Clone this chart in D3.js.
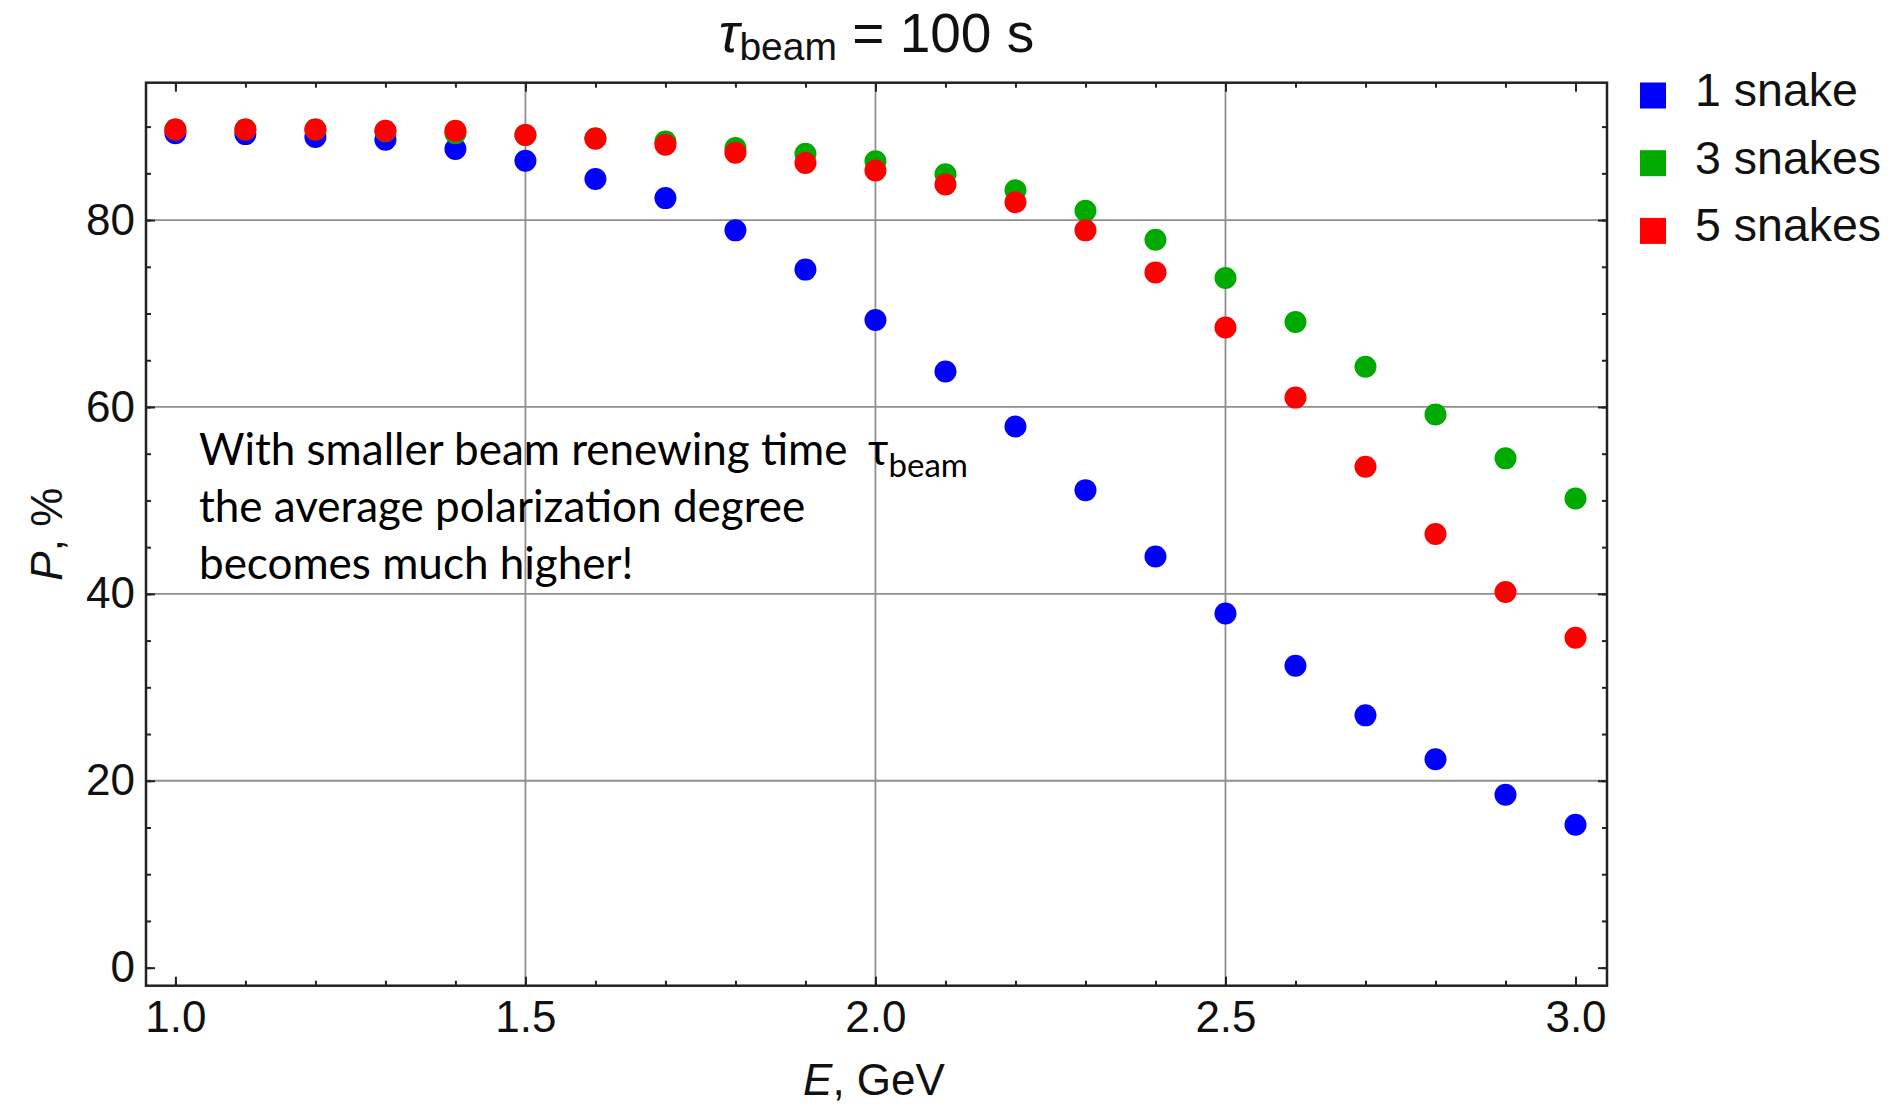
<!DOCTYPE html>
<html>
<head>
<meta charset="utf-8">
<script src="https://cdn.jsdelivr.net/npm/d3@7"></script>
<style>
    body { margin: 0; background: #fff; }
    svg { display: block; }
</style>
</head>
<body>
<svg id="chart"></svg>
<script>
// beam energy, GeV
const energies = [1.0, 1.1, 1.2, 1.3, 1.4, 1.5, 1.6, 1.7, 1.8, 1.9, 2.0,
    2.1, 2.2, 2.3, 2.4, 2.5, 2.6, 2.7, 2.8, 2.9, 3.0];

// average polarization P, %
const oneSnake = [89.3, 89.2, 88.9, 88.6, 87.6, 86.35, 84.4, 82.35, 78.9, 74.7, 69.3,
    63.8, 57.9, 51.1, 44.0, 37.9, 32.3, 27.0, 22.3, 18.5, 15.3];
const threeSnakes = [89.7, 89.7, 89.7, 89.5, 89.3, 89.1, 88.75, 88.4, 87.7, 87.1, 86.3,
    84.9, 83.2, 81.0, 77.9, 73.8, 69.1, 64.3, 59.2, 54.5, 50.2];
const fiveSnakes = [89.7, 89.7, 89.7, 89.55, 89.55, 89.1, 88.7, 88.05, 87.2, 86.1, 85.3,
    83.8, 81.9, 78.9, 74.4, 68.5, 61.0, 53.6, 46.4, 40.2, 35.3];

const seriesNames = ["1 snake", "3 snakes", "5 snakes"];
const seriesColors = ["#0000ff", "#00aa00", "#ff0000"];

const xMajorTicks = [1.0, 1.5, 2.0, 2.5, 3.0];
const yMajorTicks = [0, 20, 40, 60, 80];
const xGridLines = [1.5, 2.0, 2.5];
const yGridLines = [20, 40, 60, 80];

const width = 1895,
    height = 1105;

let svg = d3.select("#chart")
    .attr("width", width)
    .attr("height", height)
    .attr("font-family", "'Liberation Sans', Arial, sans-serif");

let x = d3.scaleLinear().domain([0.958, 3.045]).range([146, 1607]);
let y = d3.scaleLinear().domain([-1.93, 94.7]).range([985.7, 82.7]);

let [plotLeft, plotRight] = x.range();
let [plotBottom, plotTop] = y.range();

// grid
let grid = svg.append("g")
    .attr("stroke", "#8f8f8f")
    .attr("stroke-width", 1.8);

grid.selectAll("line.gx")
    .data(xGridLines)
    .enter().append("line")
    .attr("x1", function (d) { return x(d); })
    .attr("x2", function (d) { return x(d); })
    .attr("y1", plotTop)
    .attr("y2", plotBottom);

grid.selectAll("line.gy")
    .data(yGridLines)
    .enter().append("line")
    .attr("x1", plotLeft)
    .attr("x2", plotRight)
    .attr("y1", function (d) { return y(d); })
    .attr("y2", function (d) { return y(d); });

// axes on all four sides, ticks pointing inward
const xMinor = d3.range(10, 31).map(function (d) { return d / 10; });
const yMinor = d3.range(0, 95, 5);

function styleAxis(g) {
    g.select(".domain").remove();
    g.selectAll(".tick line").attr("stroke", "#222").attr("stroke-width", 2);
    g.selectAll("text").attr("fill", "#111").attr("font-size", 44);
}

function tickAxis(axis, transform, values, size) {
    svg.append("g")
        .attr("transform", transform)
        .call(axis.tickValues(values).tickSize(size).tickFormat(""))
        .call(styleAxis);
}

tickAxis(d3.axisTop(x), "translate(0," + plotBottom + ")", xMinor, 5);
tickAxis(d3.axisTop(x), "translate(0," + plotBottom + ")", xMajorTicks, 9);
tickAxis(d3.axisBottom(x), "translate(0," + plotTop + ")", xMinor, 5);
tickAxis(d3.axisBottom(x), "translate(0," + plotTop + ")", xMajorTicks, 9);
tickAxis(d3.axisRight(y), "translate(" + plotLeft + ",0)", yMinor, 5);
tickAxis(d3.axisRight(y), "translate(" + plotLeft + ",0)", yMajorTicks, 9);
tickAxis(d3.axisLeft(y), "translate(" + plotRight + ",0)", yMinor, 5);
tickAxis(d3.axisLeft(y), "translate(" + plotRight + ",0)", yMajorTicks, 9);

// tick labels
svg.append("g")
    .attr("transform", "translate(0," + plotBottom + ")")
    .call(d3.axisBottom(x).tickValues(xMajorTicks).tickSize(0).tickPadding(46).tickFormat(d3.format(".1f")))
    .call(styleAxis)
    .selectAll("text").attr("dy", 0);

svg.append("g")
    .attr("transform", "translate(" + plotLeft + ",0)")
    .call(d3.axisLeft(y).tickValues(yMajorTicks).tickSize(0).tickPadding(11).tickFormat(d3.format("d")))
    .call(styleAxis);

// frame
svg.append("rect")
    .attr("x", plotLeft)
    .attr("y", plotTop)
    .attr("width", plotRight - plotLeft)
    .attr("height", plotBottom - plotTop)
    .attr("fill", "none")
    .attr("stroke", "#222")
    .attr("stroke-width", 2.5);

// points, red drawn last so it sits on top
let series = [oneSnake, threeSnakes, fiveSnakes];

series.forEach(function (values, i) {
    svg.append("g")
        .attr("fill", seriesColors[i])
        .selectAll("circle")
        .data(values)
        .enter().append("circle")
        .attr("cx", function (d, j) { return x(energies[j]); })
        .attr("cy", function (d) { return y(d); })
        .attr("r", 11);
});

// title
let title = svg.append("text")
    .attr("x", (plotLeft + plotRight) / 2)
    .attr("y", 51.7)
    .attr("text-anchor", "middle")
    .attr("font-size", 55)
    .attr("fill", "#111");
title.append("tspan").attr("font-style", "italic").text("τ");
title.append("tspan").attr("font-size", 39).attr("dy", 8).text("beam");
title.append("tspan").attr("dy", -8).text(" = 100 s");

// axis labels
let xLabel = svg.append("text")
    .attr("x", 874)
    .attr("y", 1095)
    .attr("text-anchor", "middle")
    .attr("font-size", 44)
    .attr("fill", "#111");
xLabel.append("tspan").attr("font-style", "italic").text("E");
xLabel.append("tspan").text(", GeV");

let yLabel = svg.append("text")
    .attr("transform", "translate(62," + ((plotTop + plotBottom) / 2) + ") rotate(-90)")
    .attr("text-anchor", "middle")
    .attr("font-size", 44)
    .attr("fill", "#111");
yLabel.append("tspan").attr("font-style", "italic").text("P");
yLabel.append("tspan").text(", %");

// legend
let legend = svg.append("g")
    .selectAll("g")
    .data(seriesNames)
    .enter().append("g")
    .attr("transform", function (d, i) { return "translate(1640," + (82.5 + i * 67.7) + ")"; });

legend.append("rect")
    .attr("width", 26)
    .attr("height", 26)
    .attr("fill", function (d, i) { return seriesColors[i]; });

legend.append("text")
    .attr("x", 55)
    .attr("y", 23.5)
    .attr("font-size", 46.5)
    .attr("fill", "#111")
    .text(function (d) { return d; });

// annotation inside the plot
const noteLines = ["With smaller beam renewing time",
    "the average polarization degree",
    "becomes much higher!"];

let note = svg.append("g")
    .attr("font-family", "Lato, 'Open Sans', sans-serif")
    .attr("fill", "#000");

note.selectAll("text")
    .data(noteLines)
    .enter().append("text")
    .attr("x", 199)
    .attr("y", function (d, i) { return 465 + i * 57; })
    .attr("font-size", 44)
    .text(function (d) { return d; });

let tau = note.append("text")
    .attr("x", 868)
    .attr("y", 465)
    .attr("font-size", 44);
tau.append("tspan").text("τ");
tau.append("tspan").attr("font-size", 33).attr("dy", 12).text("beam");
</script>
</body>
</html>
